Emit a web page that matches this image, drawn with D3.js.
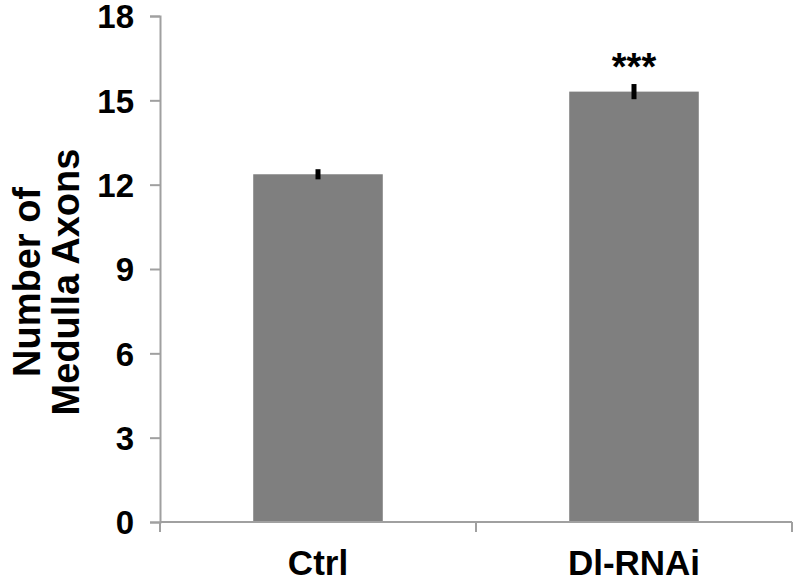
<!DOCTYPE html>
<html>
<head>
<meta charset="utf-8">
<script src="https://cdn.jsdelivr.net/npm/d3@7"></script>
<style>
  body { margin: 0; background: #fff; }
  text { font-family: "Liberation Sans", Arial, sans-serif; font-weight: 700; fill: #000; }
</style>
</head>
<body>
<div id="vis"></div>
<script>
// Frame and margins
const FRAME_WIDTH = 797;
const FRAME_HEIGHT = 584;
const MARGINS = {left: 160, right: 5, top: 16, bottom: 62};
const VIS_WIDTH = FRAME_WIDTH - MARGINS.left - MARGINS.right;
const VIS_HEIGHT = FRAME_HEIGHT - MARGINS.top - MARGINS.bottom;

// Data
const categories = ["Ctrl", "Dl-RNAi"];
const means = [12.37, 15.31];
const errors = [0.18, 0.27];
const stars = ["", "***"];
const yTicks = [0, 3, 6, 9, 12, 15, 18];

const FRAME = d3.select("#vis")
  .append("svg")
    .attr("width", FRAME_WIDTH)
    .attr("height", FRAME_HEIGHT);

const g = FRAME.append("g")
  .attr("transform", "translate(" + MARGINS.left + "," + MARGINS.top + ")");

// Scales
const X_SCALE = d3.scaleBand()
  .domain(categories)
  .range([0, VIS_WIDTH])
  .paddingInner(0)
  .paddingOuter(0);

const Y_SCALE = d3.scaleLinear()
  .domain([0, 18])
  .range([VIS_HEIGHT, 0]);

const BAR_W = X_SCALE.bandwidth() * 0.41;

// Bars
g.selectAll(".bar")
  .data(categories)
  .enter()
  .append("rect")
    .attr("class", "bar")
    .attr("x", (d) => X_SCALE(d) + X_SCALE.bandwidth() / 2 - BAR_W / 2)
    .attr("y", (d, i) => Y_SCALE(means[i]))
    .attr("width", BAR_W)
    .attr("height", (d, i) => VIS_HEIGHT - Y_SCALE(means[i]))
    .attr("fill", "#7f7f7f");

// Error bars (thick black)
g.selectAll(".err")
  .data(categories)
  .enter()
  .append("line")
    .attr("x1", (d) => X_SCALE(d) + X_SCALE.bandwidth() / 2)
    .attr("x2", (d) => X_SCALE(d) + X_SCALE.bandwidth() / 2)
    .attr("y1", (d, i) => Y_SCALE(means[i] + errors[i]))
    .attr("y2", (d, i) => Y_SCALE(means[i] - errors[i]))
    .attr("stroke", "#000")
    .attr("stroke-width", 5);

// Significance stars
g.selectAll(".star")
  .data(categories)
  .enter()
  .append("text")
    .attr("x", (d) => X_SCALE(d) + X_SCALE.bandwidth() / 2)
    .attr("y", (d, i) => Y_SCALE(means[i] + errors[i]) - 4)
    .attr("text-anchor", "middle")
    .style("font-size", "38px")
    .text((d, i) => stars[i]);

// Y axis
const yAxis = g.append("g")
  .call(d3.axisLeft(Y_SCALE).tickValues(yTicks).tickSize(10).tickPadding(16));
yAxis.select(".domain").attr("stroke", "#a0a0a0").attr("stroke-width", 2);
yAxis.selectAll(".tick line").attr("stroke", "#a0a0a0").attr("stroke-width", 2);
yAxis.selectAll(".tick text")
  .style("font-size", "33px")
  .style("font-weight", "700")
  .style("font-family", "'Liberation Sans', Arial, sans-serif")
  .attr("fill", "#000")
  .attr("dy", "0.36em");

// X axis: line with ticks at band edges
const xAxis = g.append("g")
  .attr("transform", "translate(0," + VIS_HEIGHT + ")");
xAxis.append("line")
  .attr("x1", 0).attr("x2", VIS_WIDTH)
  .attr("stroke", "#a0a0a0").attr("stroke-width", 2);
const edges = [0].concat(categories.map((d) => X_SCALE(d) + X_SCALE.bandwidth()));
xAxis.selectAll(".xt")
  .data(edges)
  .enter()
  .append("line")
    .attr("x1", (d) => d).attr("x2", (d) => d)
    .attr("y1", 0).attr("y2", 10)
    .attr("stroke", "#a0a0a0").attr("stroke-width", 2);
xAxis.selectAll(".xl")
  .data(categories)
  .enter()
  .append("text")
    .attr("x", (d) => X_SCALE(d) + X_SCALE.bandwidth() / 2)
    .attr("y", 53)
    .attr("text-anchor", "middle")
    .style("font-size", "35px")
    .text((d) => d);

// Y axis title, two lines
const title = FRAME.append("text")
  .attr("transform", "translate(40,282) rotate(-90)")
  .attr("text-anchor", "middle")
  .style("font-size", "38px");
title.append("tspan").attr("x", 0).attr("dy", 0).text("Number of");
title.append("tspan").attr("x", 0).attr("dy", "1.03em").text("Medulla Axons");
</script>
</body>
</html>
